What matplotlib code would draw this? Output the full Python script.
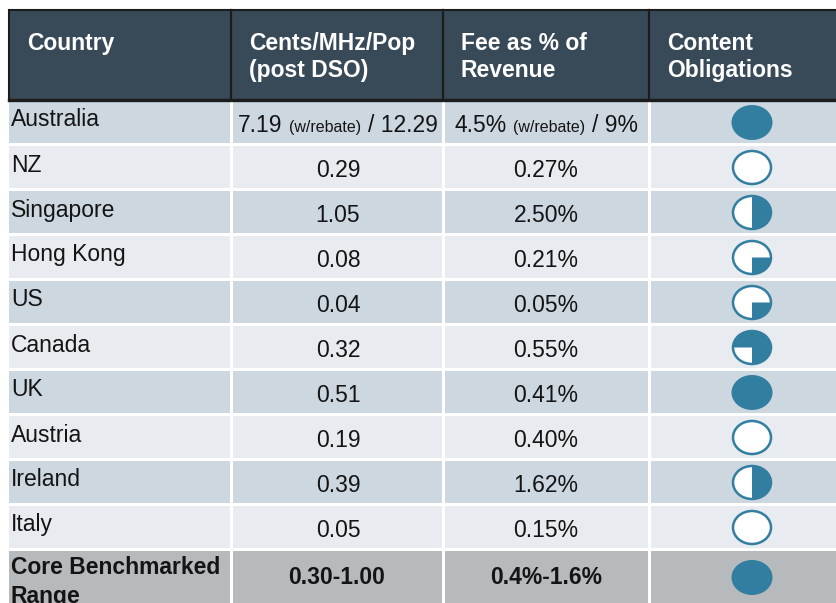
import numpy as np
import matplotlib
matplotlib.use("Agg")
import matplotlib.pyplot as plt
from matplotlib.patches import Rectangle, Ellipse, Polygon

# ---------------- data ----------------
headers = ["Country", "Cents/MHz/Pop\n(post DSO)", "Fee as % of\nRevenue", "Content\nObligations"]
countries = ["Australia", "NZ", "Singapore", "Hong Kong", "US", "Canada",
             "UK", "Austria", "Ireland", "Italy"]
cents = ["7.19 (w/rebate) / 12.29", "0.29", "1.05", "0.08", "0.04", "0.32",
         "0.51", "0.19", "0.39", "0.05"]
fees = ["4.5% (w/rebate) / 9%", "0.27%", "2.50%", "0.21%", "0.05%", "0.55%",
        "0.41%", "0.40%", "1.62%", "0.15%"]
content = [1.0, 0.0, 0.5, 0.25, 0.25, 0.75, 1.0, 0.0, 0.5, 0.0]
core_label = ["Core Benchmarked", "Range"]
core_cents = "0.30-1.00"
core_fee = "0.4%-1.6%"
core_content = 1.0

# ---------------- style / layout ----------------
W, H = 837, 603
FONT = "Liberation Sans"
FS = 16.5
FS_SMALL = 11.5
HEADER_BG = "#384a57"
HEADER_LINE = "#1c1c1c"
ROW_DARK = "#cdd7e0"
ROW_LIGHT = "#e8ebef"
CORE_BG = "#b6babd"
BLUE = "#317ea1"
TXT = "#141414"

col_edges = [9, 231, 443, 649, 870]
head_top, head_bot = 10, 100
row_top0, row_pitch, row_h = 101, 45, 42
ball_cx, ball_w, ball_h = 752, 40, 35

fig = plt.figure(figsize=(W / 100, H / 100), dpi=100)
ax = fig.add_axes([0, 0, 1, 1])
ax.set_xlim(0, W)
ax.set_ylim(H, 0)
ax.axis("off")
renderer = fig.canvas.get_renderer()

# ---------------- header ----------------
ax.add_patch(Rectangle((col_edges[0], head_top), col_edges[-1] - col_edges[0],
                       head_bot - head_top, facecolor=HEADER_BG,
                       edgecolor=HEADER_LINE, linewidth=1.5, zorder=1))
for x in col_edges[1:-1]:
    ax.plot([x, x], [head_top, head_bot], color=HEADER_LINE, lw=1.6, zorder=2)
ax.plot([col_edges[0], col_edges[-1]], [head_bot, head_bot], color=HEADER_LINE,
        lw=2.4, zorder=3)
for j, h in enumerate(headers):
    ax.text(col_edges[j] + 18, 32, h, ha="left", va="top", color="white",
            fontsize=FS, fontweight="bold", family=FONT, linespacing=1.2, zorder=4)


def mixed_text(cx, y, s, fs=FS, weight="normal"):
    """Centered text on baseline y, with '(w/rebate)' drawn smaller."""
    if "(w/rebate)" not in s:
        ax.text(cx, y, s, ha="center", va="baseline", fontsize=fs,
                fontweight=weight, family=FONT, color=TXT, zorder=5)
        return
    a, b = s.split("(w/rebate)")
    parts = [(a.strip(), fs), ("(w/rebate)", FS_SMALL), (b.strip(), fs)]
    sp = ax.text(0, 0, "a a", fontsize=fs, family=FONT)
    sp2 = ax.text(0, 0, "aa", fontsize=fs, family=FONT)
    gap = sp.get_window_extent(renderer).width - sp2.get_window_extent(renderer).width
    sp.remove(); sp2.remove()
    arts, widths = [], []
    for t, f in parts:
        art = ax.text(0, y, t, ha="left", va="baseline", fontsize=f,
                      family=FONT, color=TXT, zorder=5)
        arts.append(art)
        widths.append(art.get_window_extent(renderer).width)
    total = sum(widths) + gap * (len(parts) - 1)
    x = cx - total / 2
    for art, w in zip(arts, widths):
        art.set_x(x)
        x += w + gap


def harvey(cx, cy, frac):
    if frac >= 1:
        ax.add_patch(Ellipse((cx, cy), ball_w + 1, ball_h, facecolor=BLUE,
                             edgecolor="none", zorder=5))
        return
    ax.add_patch(Ellipse((cx, cy), ball_w - 2, ball_h - 2, facecolor="white",
                         edgecolor="none", zorder=5))
    if frac > 0:
        t = np.radians(np.linspace(-90, -90 + 360 * frac, 100))
        rx, ry = (ball_w - 2) / 2, (ball_h - 2) / 2
        pts = np.column_stack([cx + rx * np.cos(t), cy - ry * np.sin(t)])
        pts = np.vstack([[cx, cy], pts])
        ax.add_patch(Polygon(pts, closed=True, facecolor=BLUE, edgecolor="none",
                             zorder=6))
    ax.add_patch(Ellipse((cx, cy), ball_w - 2, ball_h - 2, facecolor="none",
                         edgecolor=BLUE, linewidth=1.8, zorder=7))


# ---------------- body rows ----------------
for i, name in enumerate(countries):
    top = row_top0 + i * row_pitch
    bg = ROW_DARK if i % 2 == 0 else ROW_LIGHT
    ax.add_patch(Rectangle((col_edges[0], top), col_edges[-1] - col_edges[0], row_h,
                           facecolor=bg, edgecolor="none", zorder=1))
    ax.text(col_edges[0] + 2, top + 25.5, name, ha="left", va="baseline",
            fontsize=FS, family=FONT, color=TXT, zorder=5)
    mixed_text((col_edges[1] + col_edges[2]) / 2 + 1, top + 31, cents[i])
    mixed_text((col_edges[2] + col_edges[3]) / 2, top + 31, fees[i])
    harvey(ball_cx, top + row_h / 2 + 0.5, content[i])

# core row
top = row_top0 + len(countries) * row_pitch
ax.add_patch(Rectangle((col_edges[0], top), col_edges[-1] - col_edges[0], 80,
                       facecolor=CORE_BG, edgecolor="none", zorder=1))
for k, line in enumerate(core_label):
    ax.text(col_edges[0] + 2, top + 23.5 + k * 28, line, ha="left", va="baseline",
            fontsize=FS, fontweight="bold", family=FONT, color=TXT, zorder=5)
mixed_text((col_edges[1] + col_edges[2]) / 2, top + 32.5, core_cents, weight="bold")
mixed_text((col_edges[2] + col_edges[3]) / 2, top + 32.5, core_fee, weight="bold")
harvey(ball_cx, top + 26.5, core_content)

# white column separators in body
for x in col_edges[1:-1]:
    ax.plot([x, x], [head_bot + 1.5, H + 5], color="white", lw=2.2, zorder=2)

fig.savefig("out.png", dpi=100)
